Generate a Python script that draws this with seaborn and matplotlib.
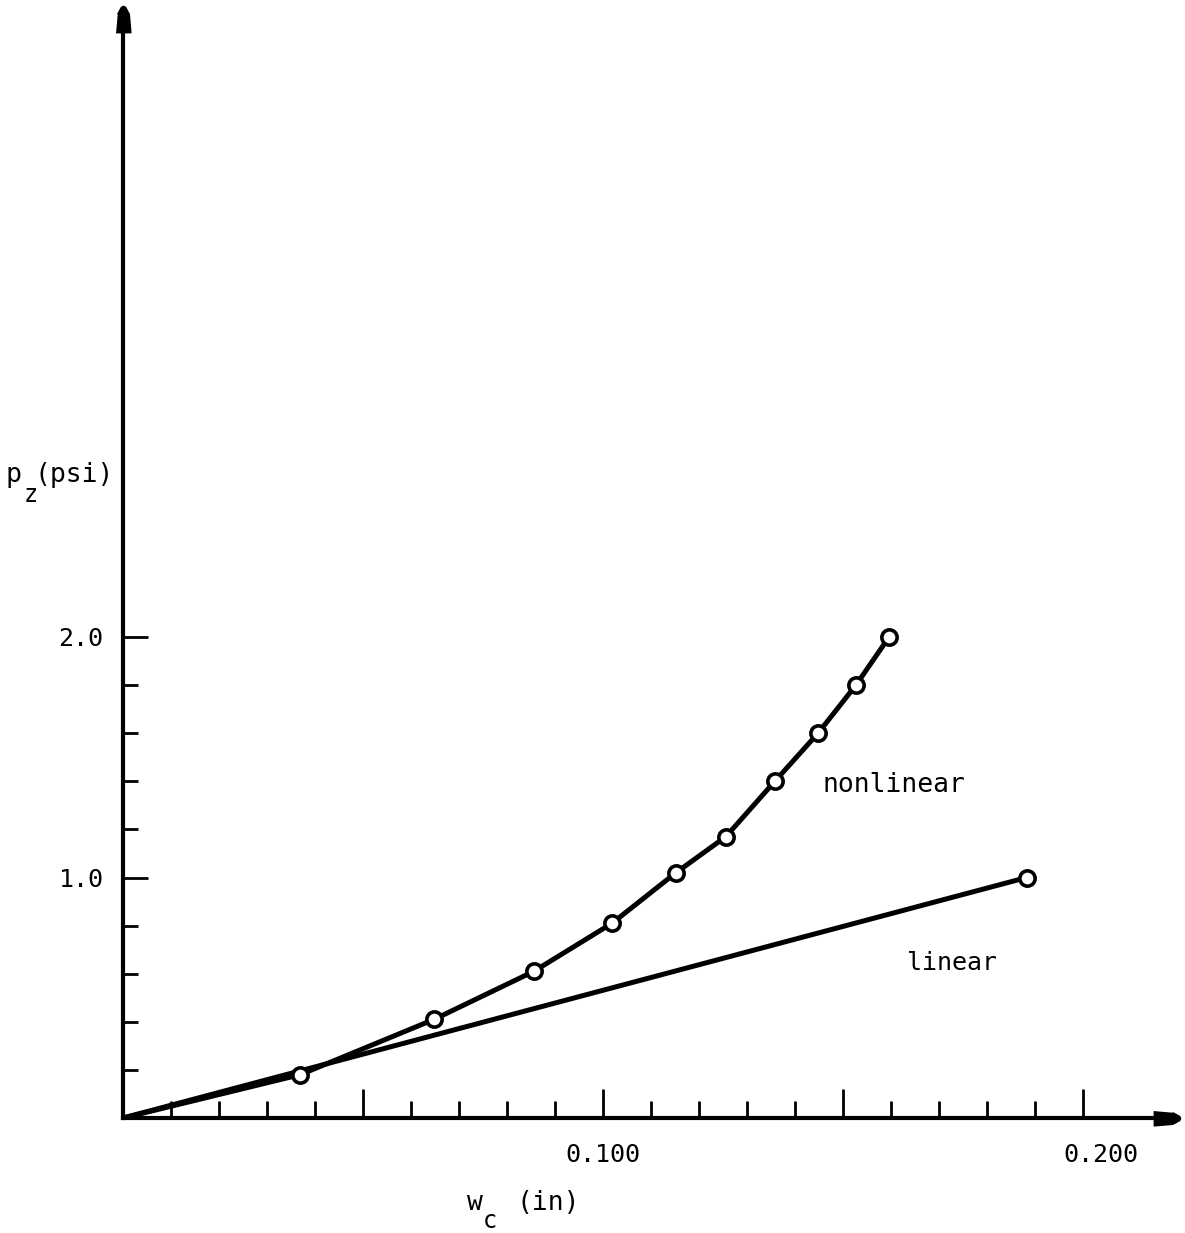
import matplotlib
matplotlib.use("Agg")
import matplotlib.pyplot as plt
import matplotlib.transforms as mtransforms
import seaborn as sns
import numpy as np

# data
nonlin_w = [0.0, 0.0369, 0.0648, 0.0856, 0.1019, 0.1152, 0.1256, 0.1358, 0.1448, 0.1527, 0.1596]
nonlin_p = [0.0, 0.18, 0.41, 0.61, 0.81, 1.02, 1.17, 1.40, 1.60, 1.80, 2.00]
lin_w = [0.0, 0.1883]
lin_p = [0.0, 1.0]

x_major = [0.05, 0.10, 0.15, 0.20]
x_major_labels = ["", "0.100", "", "0.200"]
y_major = [1.0, 2.0]
y_major_labels = ["1.0", "2.0"]

sns.set_style("white")
plt.rcParams['font.family'] = ['DejaVu Sans Mono', 'DejaVu Sans']
plt.rcParams['text.color'] = 'black'
plt.rcParams['xtick.color'] = 'black'
plt.rcParams['ytick.color'] = 'black'
plt.rcParams['axes.labelcolor'] = 'black'

W, H = 1185, 1233
fig = plt.figure(figsize=(W / 100, H / 100), dpi=100)
x0, y0 = 123, 1118
xr, yt = 1167, 19
ax = fig.add_axes([x0 / W, (H - y0) / H, (xr - x0) / W, (y0 - yt) / H])

lw = 3.6
mk = dict(marker='o', markersize=11, markerfacecolor='white',
          markeredgecolor='black', markeredgewidth=2.6)
sns.lineplot(x=nonlin_w, y=nonlin_p, ax=ax, color='black', lw=lw,
             markevery=list(range(1, len(nonlin_w))), sort=False, zorder=3, **mk)
sns.lineplot(x=lin_w, y=lin_p, ax=ax, color='black', lw=lw,
             markevery=[1], sort=False, zorder=2, **mk)

ax.set_xlim(0, (xr - x0) / 4800)
ax.set_ylim(0, (y0 - yt) / 240.5)

for s in ['top', 'right']:
    ax.spines[s].set_visible(False)
for s in ['left', 'bottom']:
    ax.spines[s].set_linewidth(3)
    ax.spines[s].set_color('black')

ax.set_xticks(x_major)
ax.set_xticklabels(x_major_labels)
ax.set_xticks(np.arange(0.01, 0.205, 0.01), minor=True)
ax.set_yticks(y_major)
ax.set_yticklabels(y_major_labels)
ax.set_yticks(np.arange(0.2, 1.85, 0.2), minor=True)

ax.tick_params(axis='x', which='major', direction='in', length=21, width=2, pad=18, labelsize=18)
ax.tick_params(axis='x', which='minor', direction='in', length=12, width=2)
ax.tick_params(axis='y', which='major', direction='in', length=18, width=2, pad=14, labelsize=18)
ax.tick_params(axis='y', which='minor', direction='in', length=11, width=2)
ax.tick_params(bottom=True, left=True, which='both')

# small right shift of the 0.200 label as in the reference
off = mtransforms.ScaledTranslation(18 / 100, 0, fig.dpi_scale_trans)
lab = ax.get_xticklabels()[3]
lab.set_transform(lab.get_transform() + off)

# arrows at axis ends (bullet-like heads)
up = [(-0.28, -0.5), (0.28, -0.5), (0.22, 0.2), (0.08, 0.46), (0, 0.5),
      (-0.08, 0.46), (-0.22, 0.2)]
right = [(y, -x) for (x, y) in up]
ax.plot(1, 0, color='black', marker=right, ms=19, transform=ax.get_yaxis_transform(), clip_on=False)
ax.plot(0, 1, color='black', marker=up, ms=19, transform=ax.get_xaxis_transform(), clip_on=False)

ax.text(0.1458, 1.385, "nonlinear", fontsize=19, ha='left', va='center')
ax.text(0.1633, 0.644, "linear", fontsize=18, ha='left', va='center')

# axis labels built from pieces (subscripts as in the reference)
def ftxt(px, py, s, size):
    fig.text(px / W, (H - py) / H, s, fontsize=size, ha='left', va='baseline')

ftxt(5, 482, "p", 19)
ftxt(24, 502, "z", 17)
ftxt(35, 482, "(psi)", 19)

ftxt(467, 1210, "w", 19)
ftxt(483, 1228, "c", 17)
ftxt(517, 1210, "(in)", 19)

fig.savefig("out.png", dpi=100, facecolor='white')
